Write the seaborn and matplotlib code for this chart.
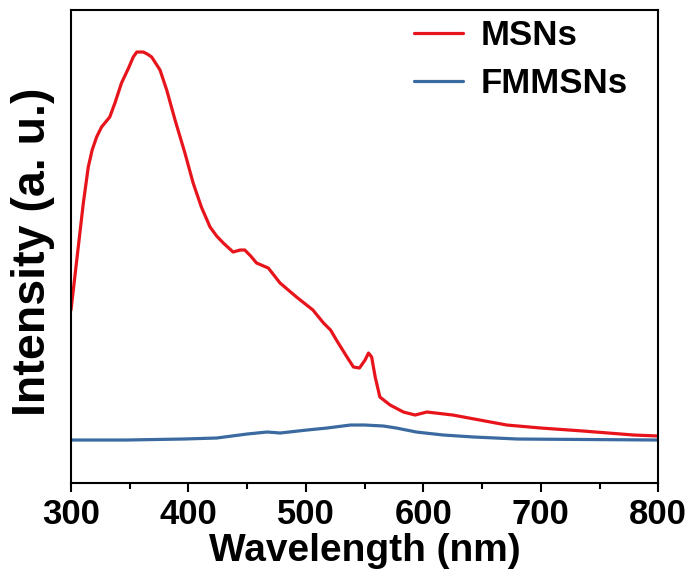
import numpy as np
import matplotlib.pyplot as plt
from matplotlib.ticker import MultipleLocator
import seaborn as sns

# MSNs spectrum (wavelength in nm, intensity in arbitrary units)
msn_wl = [300, 310.5, 314.7, 318, 321.8, 326, 333, 337.4, 343, 349, 353, 356,
          361.6, 365, 368.7, 372, 375.8, 381.5, 388.6, 397, 404, 411, 418.4,
          424, 429.7, 438, 444, 448, 453, 458, 468, 478, 492, 506, 515, 521,
          526, 535, 540.5, 545.6, 550.4, 553.3, 556, 559, 563, 571.7, 583,
          593, 603, 625, 648, 671, 700, 736, 779, 800]
msn_int = [173, 280, 316, 333, 346, 356, 366, 380, 400, 415, 426, 431,
           431, 429, 426, 420, 413, 393, 363, 330, 300, 276, 256,
           247, 240, 231, 233, 233, 227, 220, 215, 200, 186, 173, 160, 153,
           143, 126, 116, 115, 123, 130, 126, 106, 86, 78, 71,
           68, 71, 68, 63, 58, 55, 52, 48, 47]

# FMMSNs spectrum
fm_wl = [300, 347, 396, 424, 450, 467, 478, 501, 518, 538, 550, 566, 577,
         594, 617, 643, 680, 800]
fm_int = [43, 43, 44, 45, 49, 51, 50, 53, 55, 58, 58, 57, 55,
          51, 48, 46, 44, 43]

sns.set_style("ticks")
plt.rcParams["font.family"] = ["Liberation Sans", "DejaVu Sans"]
plt.rcParams["font.weight"] = "bold"
plt.rcParams["text.color"] = "black"
plt.rcParams["axes.labelcolor"] = "black"
plt.rcParams["xtick.color"] = "black"

fig = plt.figure(figsize=(6.92, 5.83), dpi=100)
ax = fig.add_axes([0.1026, 0.1715, 0.8486, 0.8113])

sns.lineplot(x=msn_wl, y=msn_int, ax=ax, color="#e8141c", lw=2.3,
             label="MSNs")
sns.lineplot(x=fm_wl, y=fm_int, ax=ax, color="#3a6aa0", lw=2.3,
             label="FMMSNs")

ax.set_xlim(300, 800)
ax.set_ylim(0, 473)
ax.xaxis.set_major_locator(MultipleLocator(100))
ax.xaxis.set_minor_locator(MultipleLocator(50))
ax.set_yticks([])
ax.tick_params(axis="x", which="major", direction="out", length=6.5,
               width=1.5, pad=4, labelsize=25, top=False)
ax.tick_params(axis="x", which="minor", direction="out", length=4,
               width=1.5, top=False)
for lbl in ax.get_xticklabels():
    lbl.set_fontweight("bold")
for sp in ax.spines.values():
    sp.set_linewidth(1.5)
    sp.set_color("black")

ax.set_xlabel("Wavelength (nm)", fontsize=28, fontweight="bold", labelpad=2)
ax.set_ylabel("Intensity (a. u.)", fontsize=33.5, fontweight="bold")
ax.yaxis.set_label_coords(-0.028, 0.488)

leg = ax.legend(loc="upper right", frameon=False, fontsize=25,
                handlelength=1.4, handletextpad=0.5, labelspacing=0.45,
                borderaxespad=0.0, bbox_to_anchor=(0.971, 1.011))
for t in leg.get_texts():
    t.set_fontweight("bold")

fig.savefig("out.png", dpi=100)
